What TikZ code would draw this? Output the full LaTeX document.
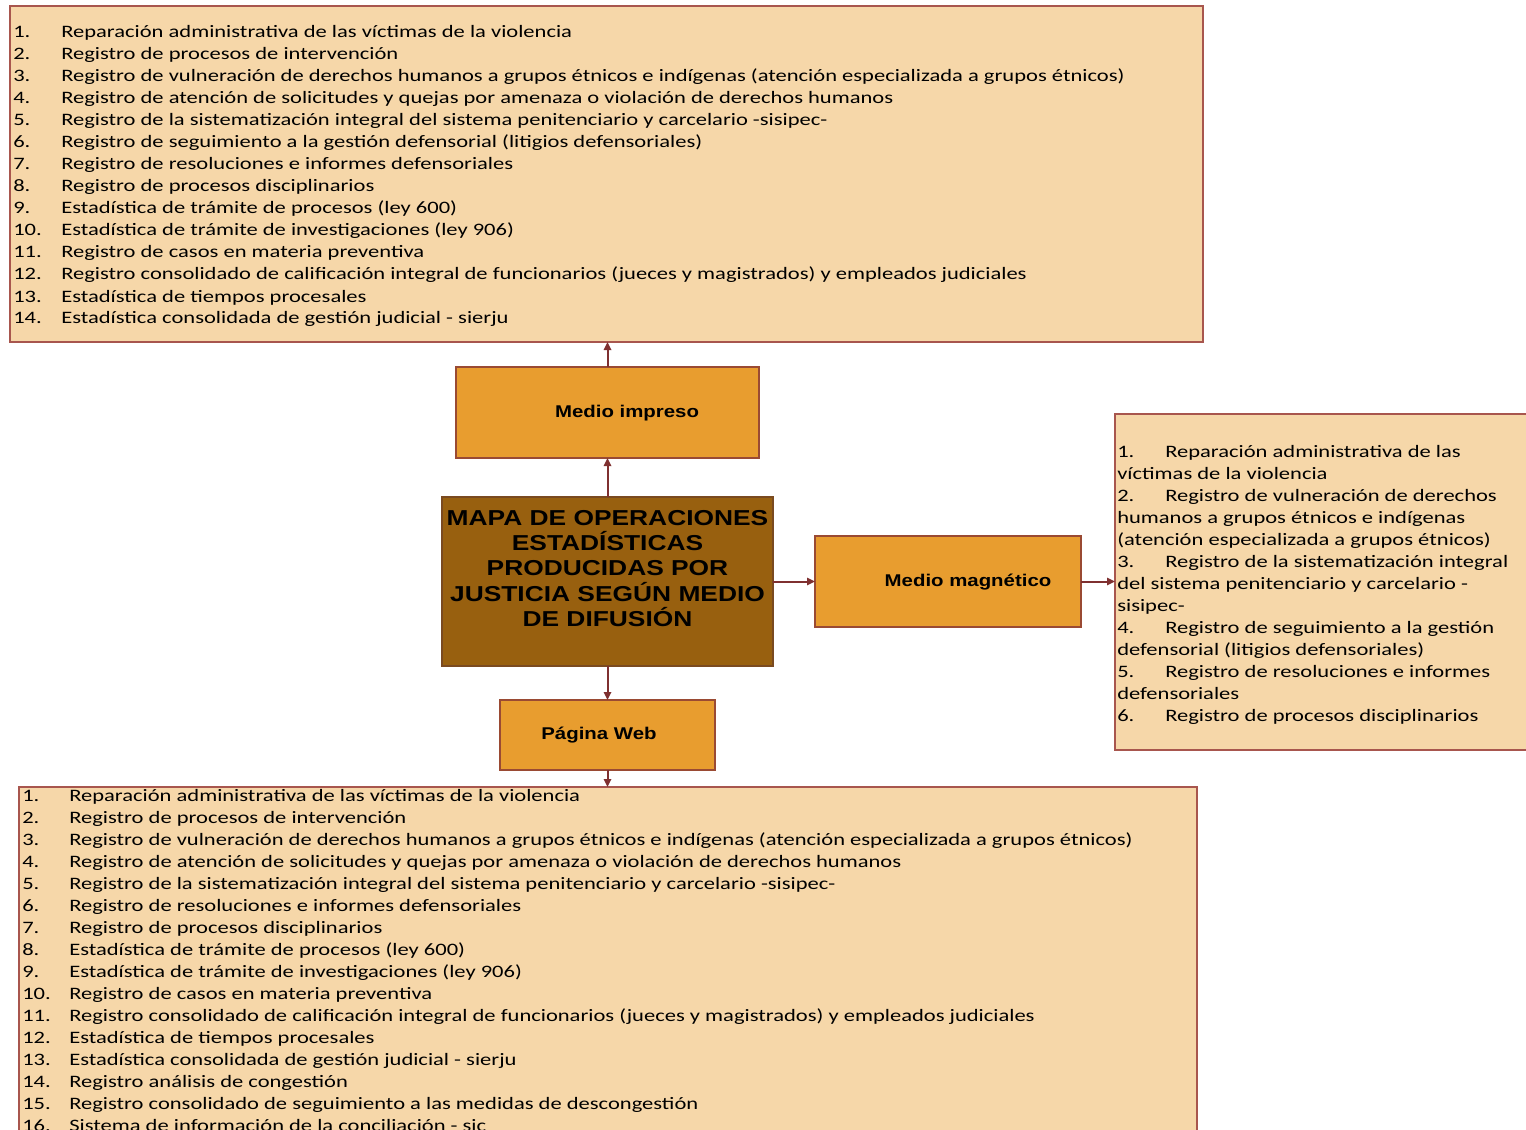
\documentclass[tikz,border=0pt]{standalone}
\usepackage{fontspec}
\setmainfont[FakeStretch=1.29]{Carlito}
\newfontfamily\headfont[FakeStretch=1.2]{Liberation Sans}
\newfontfamily\titlefont[FakeStretch=1.22]{Liberation Sans}
\usetikzlibrary{fit,arrows.meta}
\definecolor{listfill}{HTML}{F6D7A9}
\definecolor{listline}{HTML}{A8564E}
\definecolor{medfill}{HTML}{E89D2F}
\definecolor{medline}{HTML}{9A4A33}
\definecolor{mainfill}{HTML}{98600F}
\definecolor{mainline}{HTML}{7A4A20}
\definecolor{arrcol}{HTML}{7F3030}
\tikzset{
  listbox/.style={draw=listline, fill=listfill, line width=0.8pt, inner sep=0pt, outer sep=0pt},
  medbox/.style={draw=medline, fill=medfill, line width=0.8pt, inner sep=0pt, outer sep=0pt},
  mainbox/.style={draw=mainline, fill=mainfill, line width=0.8pt, inner sep=0pt, outer sep=0pt},
  ltxt/.style={anchor=base west, inner sep=0pt, font=\fontsize{13.1}{16}\selectfont},
  medtxt/.style={inner sep=0pt, font=\headfont\bfseries\fontsize{12.75}{15}\selectfont},
  maintxt/.style={inner sep=0pt, align=center, font=\titlefont\bfseries\fontsize{16.2}{19}\selectfont},
  arr/.style={draw=arrcol, line width=1.5pt, -{Triangle[length=6pt,width=5.5pt]}}
}
\begin{document}
\begin{tikzpicture}[x=0.75pt,y=-0.75pt]
\useasboundingbox (0,0) rectangle (1526,1130);
\clip (0,0) rectangle (1526,1130);
% list boxes
\node[listbox, fit={(10,6) (1203,342)}] (top) {};
\node[listbox, fit={(1115,414) (1535,750)}] (right) {};
\node[listbox, fit={(19,787) (1197,1145)}] (bottom) {};
% medium boxes
\node[medbox, fit={(456,367) (759,458)}] (impreso) {};
\node[medbox, fit={(815,536) (1081,627)}] (magnetico) {};
\node[medbox, fit={(500,700) (715,770)}] (web) {};
\node[mainbox, fit={(442,497) (773,666)}] (main) {};
% labels
\node[medtxt] (timpreso) at (627,413) {Medio impreso};
\node[medtxt] (tmagnetico) at (968,582) {Medio magnético};
\node[medtxt] (tweb) at (599,735) {Página Web};
\node[maintxt] (tmain) at (607.5,568.5) {MAPA DE OPERACIONES\\ESTADÍSTICAS\\PRODUCIDAS POR\\JUSTICIA SEGÚN MEDIO\\DE DIFUSIÓN};
% top list
\foreach \t [count=\i] in {
 {Reparación administrativa de las víctimas de la violencia},
 {Registro de procesos de intervención},
 {Registro de vulneración de derechos humanos a grupos étnicos e indígenas (atención especializada a grupos étnicos)},
 {Registro de atención de solicitudes y quejas por amenaza o violación de derechos humanos},
 {Registro de la sistematización integral del sistema penitenciario y carcelario -sisipec-},
 {Registro de seguimiento a la gestión defensorial (litigios defensoriales)},
 {Registro de resoluciones e informes defensoriales},
 {Registro de procesos disciplinarios},
 {Estadística de trámite de procesos (ley 600)},
 {Estadística de trámite de investigaciones (ley 906)},
 {Registro de casos en materia preventiva},
 {Registro consolidado de calificación integral de funcionarios (jueces y magistrados) y empleados judiciales},
 {Estadística de tiempos procesales},
 {Estadística consolidada de gestión judicial - sierju}}{
  \node[ltxt] (tn\i) at (13,{38+22*(\i-1)}) {\i.};
  \node[ltxt] (tt\i) at (61,{38+22*(\i-1)}) {\t};
}
% bottom list
\foreach \t [count=\i] in {
 {Reparación administrativa de las víctimas de la violencia},
 {Registro de procesos de intervención},
 {Registro de vulneración de derechos humanos a grupos étnicos e indígenas (atención especializada a grupos étnicos)},
 {Registro de atención de solicitudes y quejas por amenaza o violación de derechos humanos},
 {Registro de la sistematización integral del sistema penitenciario y carcelario -sisipec-},
 {Registro de resoluciones e informes defensoriales},
 {Registro de procesos disciplinarios},
 {Estadística de trámite de procesos (ley 600)},
 {Estadística de trámite de investigaciones (ley 906)},
 {Registro de casos en materia preventiva},
 {Registro consolidado de calificación integral de funcionarios (jueces y magistrados) y empleados judiciales},
 {Estadística de tiempos procesales},
 {Estadística consolidada de gestión judicial - sierju},
 {Registro análisis de congestión},
 {Registro consolidado de seguimiento a las medidas de descongestión},
 {Sistema de información de la conciliación - sic}}{
  \node[ltxt] (bn\i) at (22,{801+22*(\i-1)}) {\i.};
  \node[ltxt] (bt\i) at (69,{801+22*(\i-1)}) {\t};
}
% right list
\foreach \n/\t [count=\i] in {
 1./{Reparación administrativa de las},
 /{víctimas de la violencia},
 2./{Registro de vulneración de derechos},
 /{humanos a grupos étnicos e indígenas},
 /{(atención especializada a grupos étnicos)},
 3./{Registro de la sistematización integral},
 /{del sistema penitenciario y carcelario -},
 /{sisipec-},
 4./{Registro de seguimiento a la gestión},
 /{defensorial (litigios defensoriales)},
 5./{Registro de resoluciones e informes},
 /{defensoriales},
 6./{Registro de procesos disciplinarios}}{
  \ifx\n\empty
    \node[ltxt] (rt\i) at (1117,{457+22*(\i-1)}) {\t};
  \else
    \node[ltxt] (rn\i) at (1117,{457+22*(\i-1)}) {\n};
    \node[ltxt] (rt\i) at (1165,{457+22*(\i-1)}) {\t};
  \fi
}
% connectors
\draw[arr] (main.north) -- (impreso.south);
\draw[arr] (impreso.north) -- (impreso.north |- top.south);
\draw[arr] (main.east) -- (magnetico.west);
\draw[arr] (magnetico.east) -- (magnetico.east -| right.west);
\draw[arr] (main.south) -- (web.north);
\draw[arr] (web.south) -- (web.south |- bottom.north);
\end{tikzpicture}
\end{document}
